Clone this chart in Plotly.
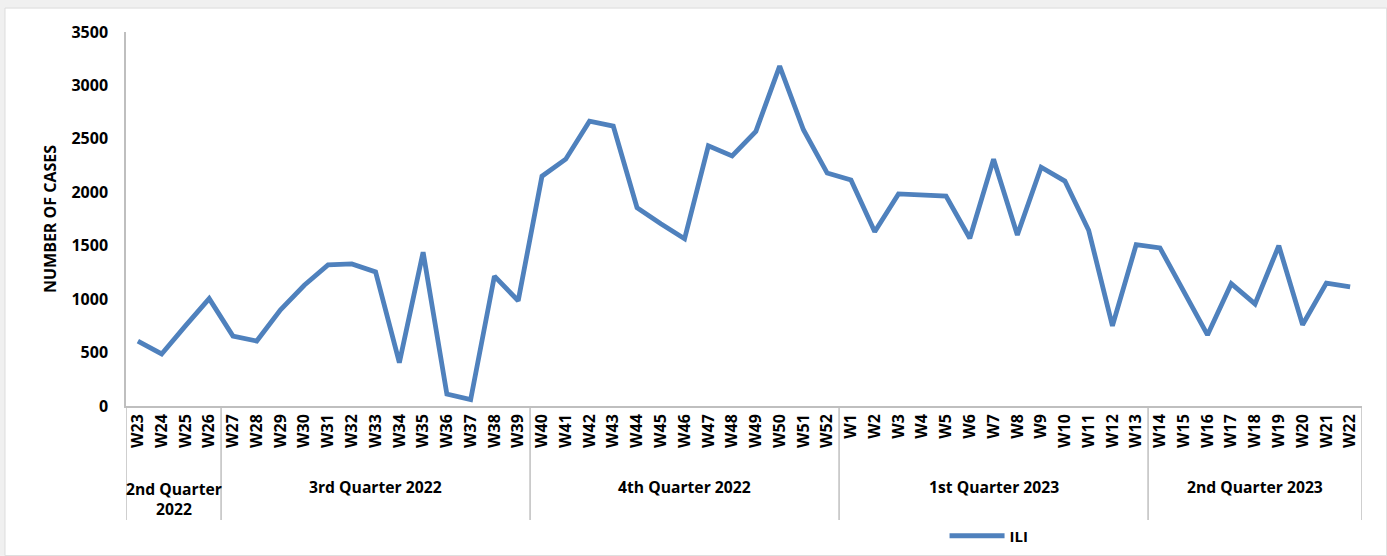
import plotly.graph_objects as go

weeks = [f"W{i}" for i in range(23, 53)] + [f"W{i}" for i in range(1, 23)]
ili = [608, 487, 750, 1005, 655, 608, 900, 1130, 1320, 1330, 1255, 405, 1440, 112, 60, 1215, 985,
       2150, 2310, 2665, 2620, 1855, 1705, 1565, 2435, 2340, 2570, 3180, 2585, 2180,
       2115, 1630, 1985, 1975, 1965, 1570, 2310, 1600, 2235, 2105, 1645, 750, 1510,
       1480, 1065, 665, 1145, 955, 1500, 760, 1150, 1115]
quarters = ["2nd Quarter<br>2022", "3rd Quarter 2022", "4th Quarter 2022", "1st Quarter 2023", "2nd Quarter 2023"]
quarter_sizes = [4, 13, 13, 13, 9]

FONT = "Open Sans"
BLUE = "#4f81bd"
AXIS = "#bfbfbf"

fig = go.Figure()
fig.add_trace(go.Scatter(x=list(range(len(weeks))), y=ili, mode="lines", name="ILI",
                         line=dict(color=BLUE, width=4.8)))

shapes = []
annotations = []
start = 0
bounds = [-0.5]
for q, n in zip(quarters, quarter_sizes):
    end = start + n
    bounds.append(end - 0.5)
    two = "<br>" in q
    annotations.append(dict(x=(start + end - 1) / 2, y=-0.187 if two else -0.217, xref="x", yref="paper",
                            text=q, showarrow=False, yanchor="top" if two else "middle",
                            font=dict(family=FONT, size=15.7, color="black", weight="bold")))
    start = end
for b in bounds:
    shapes.append(dict(type="line", xref="x", yref="paper", x0=b, x1=b, y0=0, y1=-0.305,
                       line=dict(color=AXIS, width=1.5)))

# white chart area on the gray page (kept inside the figure bounds)
shapes.append(dict(type="rect", xref="paper", yref="paper", x0=-0.0979, x1=1.02, y0=-0.40, y1=1.064,
                   fillcolor="white", line=dict(color="#dcdcdc", width=1), layer="below"))

fig.update_layout(
    width=1387, height=556,
    margin=dict(l=126, r=25, t=32, b=150),
    paper_bgcolor="#f0f0f0", plot_bgcolor="white",
    font=dict(family=FONT, size=14, color="black"),
    shapes=shapes, annotations=annotations,
    showlegend=True,
    legend=dict(orientation="h", xref="container", yref="container", x=0.681, y=0.036,
                xanchor="left", yanchor="middle",
                itemwidth=55, bgcolor="rgba(0,0,0,0)",
                font=dict(family=FONT, size=15, weight="bold")),
)
fig.update_xaxes(range=[-0.5, len(weeks) - 0.5], tickmode="array",
                 tickvals=list(range(len(weeks))), ticktext=weeks, tickangle=-90,
                 showline=True, linecolor=AXIS, linewidth=1.5, showgrid=False, ticks="",
                 tickfont=dict(family=FONT, size=16, weight="bold"), zeroline=False,
                 automargin=False)
fig.update_yaxes(range=[0, 3500], dtick=500, showline=True, linecolor=AXIS, linewidth=1.5,
                 showgrid=False, ticks="", zeroline=False, automargin=False,
                 tickfont=dict(family=FONT, size=16, weight="bold"), ticklabelstandoff=13,
                 title=dict(text="NUMBER OF CASES", standoff=11,
                            font=dict(family=FONT, size=16, weight="bold")))

post = "var s=document.body.style;s.margin='0';s.background='#f0f0f0';"
fig.write_html("out.html", post_script=post, config={"displayModeBar": False})
